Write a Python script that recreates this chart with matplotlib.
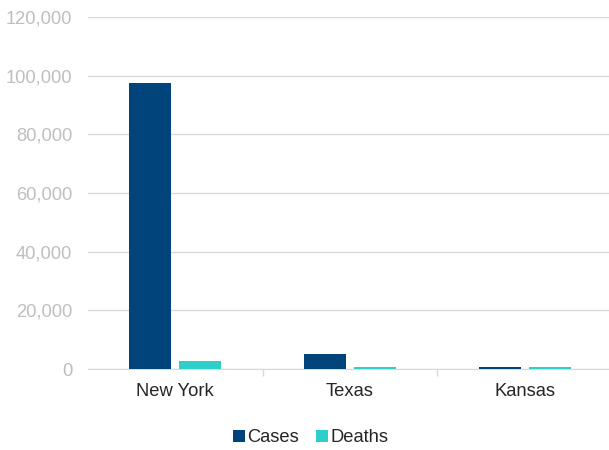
import numpy as np
import matplotlib.pyplot as plt
from matplotlib.ticker import FuncFormatter

plt.rcParams['font.family'] = ['Liberation Sans', 'DejaVu Sans']

states = ['New York', 'Texas', 'Kansas']
cases = [97600, 5200, 650]
deaths = [2600, 650, 650]
yticks = [0, 20000, 40000, 60000, 80000, 100000, 120000]

c_cases = '#00447C'
c_deaths = '#2ECFCB'

fig = plt.figure(figsize=(6.09, 4.5), dpi=100)
ax = fig.add_axes([0.1445, 0.18, 0.8604, 0.782])

x = np.arange(len(states))
w = 0.24
off = 0.143
ax.bar(x - off, cases, w, color=c_cases, label='Cases', zorder=3)
ax.bar(x + off, deaths, w, color=c_deaths, label='Deaths', zorder=3)

ax.set_xlim(-0.5, 2.5)
ax.set_ylim(0, 120000)
ax.set_yticks(yticks)
ax.yaxis.set_major_formatter(FuncFormatter(lambda v, p: '{:,.0f}'.format(v)))
ax.grid(axis='y', color='#D9D9D9', linewidth=1, zorder=0)
ax.tick_params(axis='y', length=0, pad=11.5, labelsize=13.2, labelcolor='#BFBFBF')

ax.set_xticks(x)
ax.set_xticklabels(states)
ax.set_xticks([0.5, 1.5], minor=True)
ax.tick_params(axis='x', which='major', length=0, pad=10, labelsize=13.2, labelcolor='#262626')
ax.tick_params(axis='x', which='minor', length=5, color='#D9D9D9', width=1)

for s in ['top', 'right', 'left']:
    ax.spines[s].set_visible(False)
ax.spines['bottom'].set_color('#D9D9D9')

fig.legend(loc='center', bbox_to_anchor=(0.51, 0.027), ncol=2, frameon=False,
           fontsize=13.2, handlelength=0.65, handleheight=0.65, handletextpad=0.15,
           columnspacing=0.9, labelcolor='#262626')

plt.savefig('out.png', dpi=100)
